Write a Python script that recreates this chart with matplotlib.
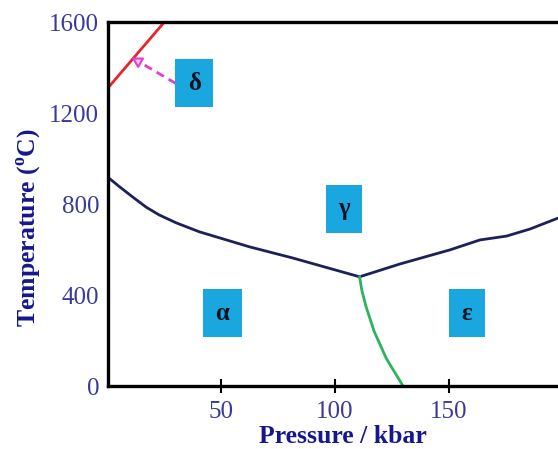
import matplotlib.pyplot as plt
from matplotlib import rcParams

rcParams['font.family'] = ['Liberation Serif', 'DejaVu Serif']
rcParams['mathtext.fontset'] = 'custom'
rcParams['mathtext.rm'] = 'Liberation Serif'
rcParams['mathtext.bf'] = 'Liberation Serif:bold'

# phase boundaries of iron, pressure in kbar, temperature in degC
ag_p = [0, 5, 10.9, 17, 22.7, 30, 40.3, 62.3, 81.3, 110.8]
ag_t = [919, 878, 832, 786, 752, 718, 678, 612, 563, 480]
ge_p = [110.8, 128.4, 150.4, 163.7, 175.4, 185.7, 198, 201]
ge_t = [480, 536, 598, 642, 659, 690, 738, 745]
ae_p = [110.8, 111.8, 113.6, 117.2, 122.6, 129.9]
ae_t = [480, 420, 350, 240, 120, 0]
d_p = [0, 25.0]
d_t = [1308, 1600]

phases = ['α', 'γ', 'ε']
phase_p = [50.5, 104, 158]
phase_t = [320, 780, 320]

x_ticks = [50, 100, 150]
y_ticks = [0, 400, 800, 1200, 1600]

navy = '#1c2157'
tickc = '#3a3a9a'
labc = '#161690'
boxc = '#1aa7e0'

fig = plt.figure(figsize=(5.58, 4.49), dpi=100)
ax = fig.add_axes([0.1927, 0.1403, 0.8154, 0.8107])

ax.plot(ag_p, ag_t, color=navy, lw=2)
ax.plot(ge_p, ge_t, color=navy, lw=2)
ax.plot(ae_p, ae_t, color='#2db35c', lw=2)
ax.plot(d_p, d_t, color='#e8252b', lw=2)

# dashed pointer from the delta box to the delta field
tail = (30.0, 1330)
head = (9.5, 1450)
ax.plot([tail[0], head[0] + 3], [tail[1], head[1] - 17], ls=(0, (3, 2)), color='#e23fcf', lw=2)
ax.annotate('', xy=head, xytext=(head[0] + 4, head[1] - 23),
            arrowprops=dict(arrowstyle='-|>,head_length=0.6,head_width=0.35',
                            color='#e23fcf', fc='#f8c8f0', lw=1.5))

box = dict(boxstyle='square,pad=0.5', fc=boxc, ec='none')
for lab, p, t in zip(phases, phase_p, phase_t):
    ax.text(p, t, lab, fontsize=18, fontweight='bold', ha='center', va='center',
            color='#111122', bbox=box)
ax.text(38.2, 1330, 'δ', fontsize=18, fontweight='bold', ha='center', va='center',
        color='#111122', bbox=box)

ax.set_xlim(0, 200)
ax.set_ylim(0, 1600)
ax.set_xticks(x_ticks)
ax.set_yticks(y_ticks)
ax.tick_params(axis='x', direction='inout', length=10, width=1.5, pad=6,
               colors='black', labelcolor=tickc, labelsize=18)
ax.tick_params(axis='y', length=0, pad=6, labelcolor=tickc, labelsize=18)

ax.spines['right'].set_visible(False)
for s in ('left', 'bottom', 'top'):
    ax.spines[s].set_linewidth(2.4)
    ax.spines[s].set_color('black')

ax.set_xlabel('Pressure / kbar', fontsize=18.5, fontweight='bold', color=labc)
ax.set_ylabel('Temperature ($^{\\mathbf{o}}$C)', fontsize=18.5, fontweight='bold', color=labc)
ax.xaxis.set_label_coords(0.518, -0.106)
ax.yaxis.set_label_coords(-0.142, 0.434)

fig.savefig('out.png', dpi=100)
